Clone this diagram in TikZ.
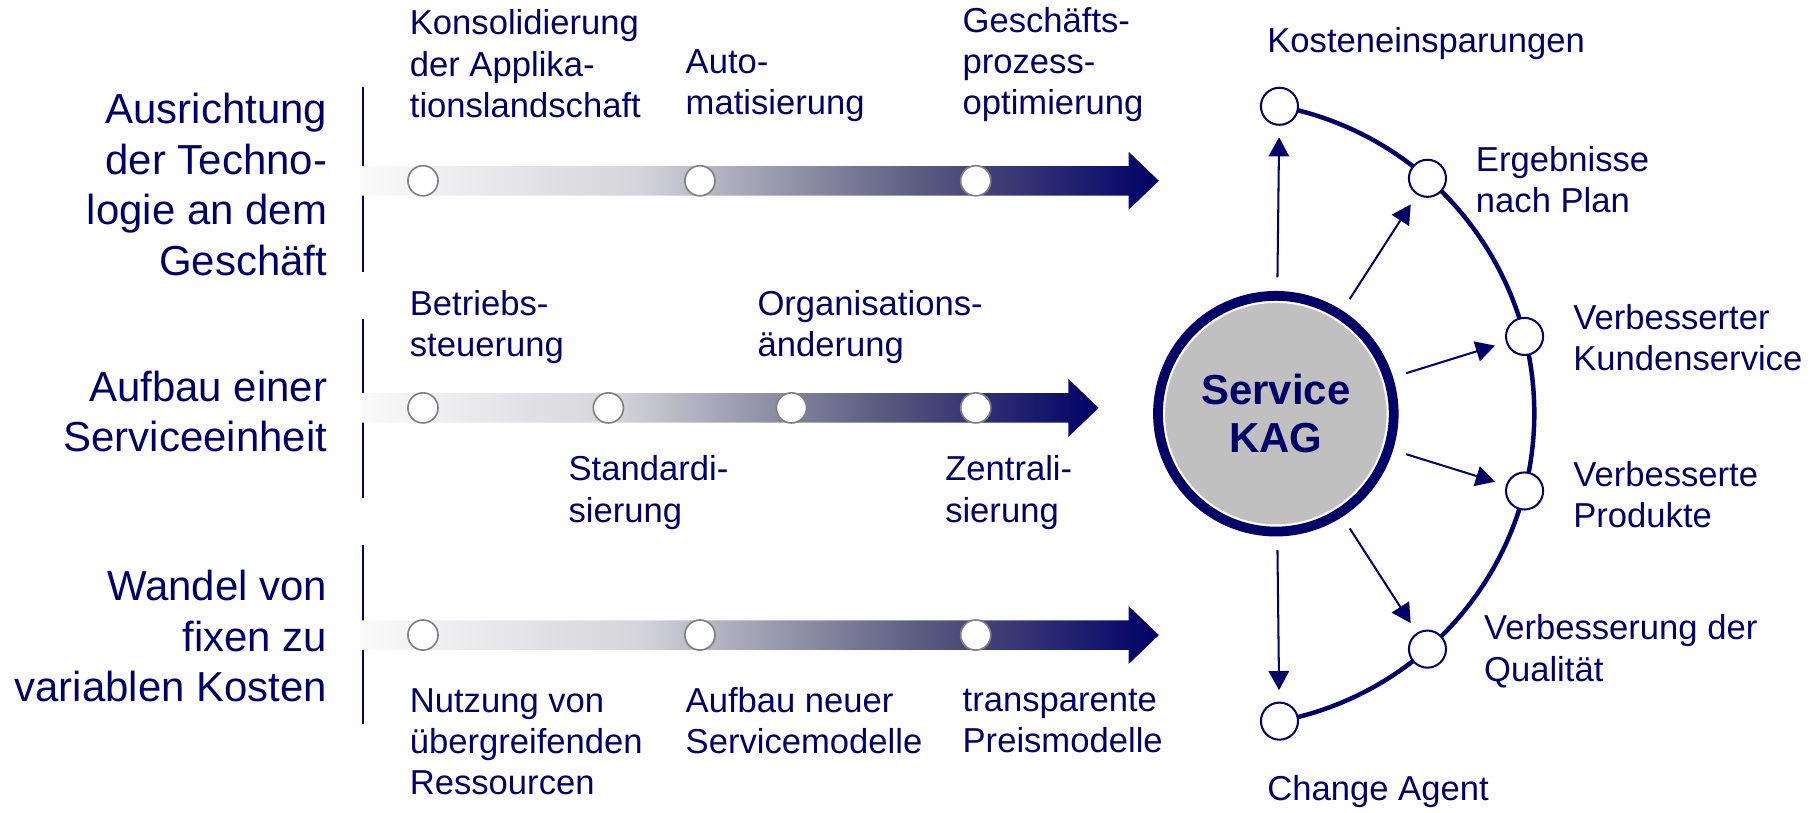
\documentclass[tikz,border=0pt]{standalone}
\usepackage{fontspec}
\setmainfont{Liberation Sans}
\usetikzlibrary{arrows.meta}
\definecolor{kagblue}{RGB}{0,0,102}
\definecolor{kaggray}{RGB}{192,192,192}
\definecolor{bandstart}{RGB}{250,250,250}
\definecolor{bandlight}{RGB}{212,212,218}
\definecolor{banddark}{RGB}{92,92,128}
\pgfdeclarehorizontalshading{bandfade}{100bp}{color(0bp)=(bandstart); color(25bp)=(bandstart); color(42.5bp)=(bandlight); color(60bp)=(banddark); color(75bp)=(kagblue); color(100bp)=(kagblue)}
\begin{document}
\begin{tikzpicture}
    [SideText/.style={anchor=east, align=right, inner sep=0pt, text=kagblue, font={\fontsize{10.3}{12.4}\selectfont}},
     StepText/.style={anchor=west, align=left, inner sep=0pt, text=kagblue, font={\fontsize{8.5}{10.1}\selectfont}},
     DotNode/.style={circle, draw=gray, fill=white, line width=0.4pt, inner sep=0pt, minimum size=2.6mm},
     GoalNode/.style={circle, draw=kagblue, fill=white, line width=0.5pt, inner sep=0pt, minimum size=3.2mm},
     KagNode/.style={circle, draw=white, fill=kaggray, line width=0.8pt, minimum size=19.4mm, align=center, text=kagblue, font={\fontsize{10.3}{11.8}\selectfont\bfseries}},
     Spoke/.style={-{Triangle[length=4.7pt, width=5pt]}, draw=kagblue, line width=0.5pt, shorten <=5.5pt, shorten >=2.8pt}]
    \useasboundingbox (0,0) rectangle (15.68,-7.01);
    \node[SideText] (tech) at (2.83,-1.59) {Ausrichtung\\der Techno-\\logie an dem\\Geschäft};
    \node[SideText] (unit) at (2.83,-3.55) {Aufbau einer\\Serviceeinheit};
    \node[SideText] (fix) at (2.83,-5.49) {Wandel von\\fixen zu\\variablen Kosten};
    \draw[kagblue, line width=0.4pt] (3.13,-0.75) -- (3.13,-2.35);
    \draw[kagblue, line width=0.4pt] (3.13,-2.75) -- (3.13,-4.30);
    \draw[kagblue, line width=0.4pt] (3.13,-4.70) -- (3.13,-6.25);
    \foreach \y/\t in {-1.56/10.00, -3.52/9.48, -5.48/10.00}
        \shade[shading=bandfade]
            (3.11,{\y+0.1275}) -- ({\t-0.26},{\y+0.1275}) -- ({\t-0.26},{\y+0.25}) -- (\t,\y)
            -- ({\t-0.26},{\y-0.25}) -- ({\t-0.26},{\y-0.1275}) -- (3.11,{\y-0.1275}) -- cycle;
    \node[DotNode] (t1) at (3.65,-1.56) {};
    \node[DotNode] (t2) at (6.04,-1.56) {};
    \node[DotNode] (t3) at (8.42,-1.56) {};
    \node[DotNode] (m1) at (3.65,-3.52) {};
    \node[DotNode] (m2) at (5.25,-3.52) {};
    \node[DotNode] (m3) at (6.83,-3.52) {};
    \node[DotNode] (m4) at (8.42,-3.52) {};
    \node[DotNode] (b1) at (3.65,-5.48) {};
    \node[DotNode] (b2) at (6.04,-5.48) {};
    \node[DotNode] (b3) at (8.42,-5.48) {};
    \node[StepText] (kons) at (3.53,-0.55) {Konsolidierung\\der Applika-\\tionslandschaft};
    \node[StepText] (auto) at (5.91,-0.74) {Auto-\\matisierung};
    \node[StepText] (proc) at (8.30,-0.56) {Geschäfts-\\prozess-\\optimierung};
    \node[StepText] (betr) at (3.53,-2.82) {Betriebs-\\steuerung};
    \node[StepText] (orga) at (6.53,-2.82) {Organisations-\\änderung};
    \node[StepText] (std) at (4.90,-4.25) {Standardi-\\sierung};
    \node[StepText] (zent) at (8.15,-4.25) {Zentrali-\\sierung};
    \node[StepText] (nutz) at (3.53,-6.40) {Nutzung von\\übergreifenden\\Ressourcen};
    \node[StepText] (neu) at (5.91,-6.22) {Aufbau neuer\\Servicemodelle};
    \node[StepText] (price) at (8.30,-6.22) {transparente\\Preismodelle};
    \coordinate (hub) at (10.54,-3.57);
    \draw[kagblue, line width=1.1pt] ([shift={(79.3:2.7)}]hub) arc[start angle=79.3, end angle=-79.3, radius=2.7];
    \node[GoalNode] (save) at ([shift={(79.3:2.7)}]hub) {};
    \node[GoalNode] (plan) at ([shift={(48.8:2.7)}]hub) {};
    \node[GoalNode] (care) at ([shift={(14.3:2.7)}]hub) {};
    \node[GoalNode] (prod) at ([shift={(-14.3:2.7)}]hub) {};
    \node[GoalNode] (qual) at ([shift={(-48.8:2.7)}]hub) {};
    \node[GoalNode] (agent) at ([shift={(-79.3:2.7)}]hub) {};
    \node[StepText] (savetext) at (10.93,-0.38) {Kosteneinsparungen};
    \node[StepText] (plantext) at (12.73,-1.55) {Ergebnisse\\nach Plan};
    \node[StepText] (caretext) at (13.57,-2.91) {Verbesserter\\Kundenservice};
    \node[StepText] (prodtext) at (13.57,-4.27) {Verbesserte\\Produkte};
    \node[StepText] (qualtext) at (12.80,-5.62) {Verbesserung der\\Qualität};
    \node[StepText] (agenttext) at (10.93,-6.83) {Change Agent};
    \node[KagNode] (kag) at (11.01,-3.57) {Service\\KAG};
    \draw[kagblue, line width=2.4pt] (kag.center) circle (1.017);
    \draw[Spoke] (kag) -- (save);
    \draw[Spoke] (kag) -- (plan);
    \draw[Spoke] (kag) -- (care);
    \draw[Spoke] (kag) -- (prod);
    \draw[Spoke] (kag) -- (qual);
    \draw[Spoke] (kag) -- (agent);
\end{tikzpicture}
\end{document}
